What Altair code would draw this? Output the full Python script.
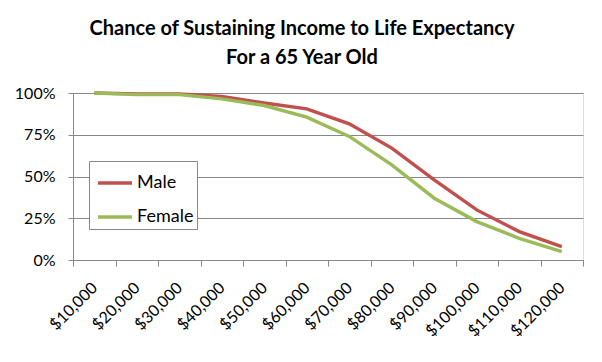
import altair as alt
import pandas as pd

incomes = ["$10,000", "$20,000", "$30,000", "$40,000", "$50,000", "$60,000",
           "$70,000", "$80,000", "$90,000", "$100,000", "$110,000", "$120,000"]
male = [1.00, 0.995, 0.995, 0.98, 0.94, 0.905, 0.815, 0.67, 0.48, 0.30, 0.17, 0.08]
female = [1.00, 0.99, 0.99, 0.965, 0.925, 0.855, 0.74, 0.57, 0.37, 0.23, 0.13, 0.05]
series = ["Male", "Female"]
colors = ["#C0504D", "#9BBB59"]

rows = []
for i, inc in enumerate(incomes):
    rows.append({"income": inc, "series": "Male", "value": male[i]})
    rows.append({"income": inc, "series": "Female", "value": female[i]})
df = pd.DataFrame(rows)

FONT = "Lato"

chart = alt.Chart(df).mark_line(strokeWidth=3.4).encode(
    x=alt.X("income:N", sort=incomes,
            scale=alt.Scale(type="band", paddingInner=0, paddingOuter=0),
            axis=alt.Axis(title=None, labelAngle=-45, labelAlign="right", labelBaseline="middle",
                          labelFontSize=16, labelFont=FONT, labelColor="#000000",
                          labelPadding=19, tickSize=6, tickBand="extent",
                          tickColor="#888888", domainColor="#888888", grid=False)),
    y=alt.Y("value:Q", scale=alt.Scale(domain=[0, 1], nice=False),
            axis=alt.Axis(title=None, values=[0, 0.25, 0.5, 0.75, 1.0], format=".0%",
                          labelFontSize=16, labelFont=FONT, labelColor="#000000",
                          labelPadding=13, tickSize=5, tickColor="#888888",
                          domainColor="#888888", gridColor="#888888", gridWidth=1)),
    color=alt.Color("series:N", sort=series,
                    scale=alt.Scale(domain=series, range=colors),
                    legend=alt.Legend(title=None, orient="none", legendX=16, legendY=68,
                                      symbolType="stroke", symbolSize=1156, symbolStrokeWidth=3.5,
                                      symbolOffset=4, labelOffset=3, labelFontSize=18,
                                      labelFont=FONT, labelColor="#000000",
                                      padding=3, rowPadding=6, strokeColor="#888888",
                                      fillColor="#FFFFFF")),
).properties(
    width=510,
    height=167,
    title=alt.TitleParams(
        text=["Chance of Sustaining Income to Life Expectancy", "For a 65 Year Old"],
        font=FONT, fontSize=20, fontWeight="bold", color="#000000",
        lineHeight=29, anchor="middle", dx=-26, offset=17),
    padding={"left": 65, "top": 85, "right": 11, "bottom": 94},
    autosize=alt.AutoSizeParams(type="none"),
).configure_view(stroke=None).configure(background="#FFFFFF")

chart.save("out.html", embed_options={"renderer": "svg", "actions": False})
